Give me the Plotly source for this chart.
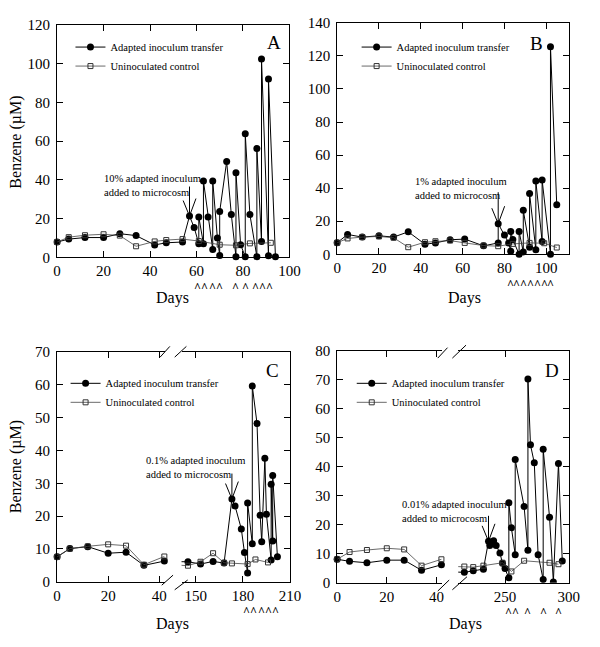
import plotly.graph_objects as go

# The page body keeps an 8 px margin, so the figure is sized to fill the 600x647 window.
PAGE_W, PAGE_H, BODY = 600, 647, 8
W, H = PAGE_W - 2 * BODY, PAGE_H - 2 * BODY
FONT = "Liberation Serif"

# ---------------- data ----------------
# Panel A (10% transfer)
a_days = [0, 5, 12, 20, 27, 34, 42, 47, 54, 57, 59, 61, 61, 63, 63, 65, 67, 67, 69, 70, 70,
          73, 75, 77, 77, 79, 81, 81, 83, 86, 86, 88, 88, 91, 91, 94]
a_adapted = [7.9, 9.4, 10.2, 10.2, 12.2, 11.2, 6.4, 7.5, 7.9, 21.3, 15.4, 7.0, 20.8, 7.0, 39.4,
             20.8, 4.0, 39.4, 10.0, 1.0, 23.6, 49.4, 22.1, 0.3, 43.6, 6.5, 0.3, 63.7, 22.1,
             0.3, 56.1, 8.2, 102.4, 0.8, 92.0, 0.3]
a_ctrl_days = [0, 5, 12, 20, 27, 34, 42, 47, 54, 61, 70, 77, 83, 92]
a_ctrl = [7.9, 10.4, 11.4, 11.9, 11.2, 5.7, 8.2, 8.9, 9.4, 8.4, 6.5, 6.2, 7.2, 7.5]
a_carets = [61, 63, 67, 70, 77, 81, 86, 88, 91]

# Panel B (1% transfer)
b_days = [0, 5, 12, 20, 27, 34, 42, 47, 54, 61, 70, 77, 77, 80, 82, 83, 83, 84, 87, 87, 89, 89,
          92, 92, 95, 95, 98, 98, 102, 102, 105]
b_adapted = [7.0, 12.0, 10.4, 11.2, 10.4, 13.6, 6.1, 6.9, 8.8, 9.2, 5.1, 6.9, 18.5, 11.6, 6.9,
             1.8, 13.8, 8.9, 0.0, 13.8, 1.4, 26.6, 4.3, 36.8, 2.7, 44.3, 7.7, 45.0, 0.0, 125.6, 29.9]
b_ctrl_days = [0, 5, 12, 20, 27, 34, 42, 47, 54, 61, 70, 77, 84, 92, 99, 105]
b_ctrl = [7.0, 9.6, 10.4, 10.8, 10.0, 4.3, 7.3, 7.9, 8.3, 6.9, 5.3, 4.9, 6.3, 6.9, 6.7, 4.1]
b_carets = [83, 87, 89, 92, 95, 98, 102]

# Panel C (0.1% transfer) - broken axis
c1_days = [0, 5, 12, 20, 27, 34, 42]
c1_adapted = [7.6, 10.1, 10.7, 8.7, 9.0, 5.0, 6.3]
c1_ctrl = [7.6, 10.1, 10.8, 11.4, 11.0, 5.2, 7.7]
c2_days = [145, 153, 161, 168, 173, 175, 179, 181, 183, 183, 186, 186, 189, 191, 192, 194, 195,
           198, 198, 199, 199, 202]
c2_adapted = [6.1, 5.4, 6.2, 5.7, 25.2, 23.1, 16.1, 8.9, 2.7, 24.0, 11.6, 59.6, 48.2, 20.3, 12.2,
              37.6, 20.6, 6.6, 29.7, 12.4, 32.4, 7.6]
c2_ctrl_days = [145, 153, 161, 168, 173, 183, 188, 196]
c2_ctrl = [4.9, 6.1, 8.7, 5.8, 5.6, 5.4, 6.8, 5.9]
c_carets = [183, 186, 194, 198, 199]

# Panel D (0.01% transfer) - broken axis
d1_days = [0, 5, 12, 20, 27, 34, 42]
d1_adapted = [8.1, 7.4, 6.9, 7.8, 7.8, 4.3, 6.2]
d1_ctrl = [8.1, 10.6, 11.3, 11.9, 11.5, 5.9, 8.1]
d2_days = [218, 225, 233, 237, 238, 241, 243, 246, 248, 250, 253, 253, 255, 258, 258, 265, 268,
           268, 270, 273, 276, 280, 280, 285, 288, 292, 295]
d2_adapted = [3.6, 4.1, 4.7, 14.3, 12.9, 14.5, 12.9, 10.3, 6.7, 4.9, 1.7, 27.6, 19.0, 9.7, 42.5,
              26.3, 11.2, 70.3, 47.6, 41.4, 9.7, 1.1, 46.1, 22.6, 0.3, 41.2, 7.5]
d2_ctrl_days = [218, 225, 233, 248, 255, 265, 285, 292]
d2_ctrl = [5.6, 5.4, 5.9, 6.9, 3.9, 7.6, 6.9, 6.4]
d_carets = [253, 258, 268, 280, 292]

series_names = ["Adapted inoculum transfer", "Uninoculated control"]
notes = ["10% adapted inoculum<br>added to microcosm",
         "1% adapted inoculum<br>added to microcosm",
         "0.1% adapted inoculum<br>added to microcosm",
         "0.01% adapted inoculum<br>added to microcosm"]
panel_letters = ["A", "B", "C", "D"]


# ---------------- helpers (arguments are page pixels) ----------------
def px(x):
    return (x - BODY) / W


def py(y):
    return 1 - (y - BODY) / H


def adapted_trace(x, y, xa, ya, legend, show, clip=False):
    return go.Scatter(x=x, y=y, xaxis=xa, yaxis=ya, mode="lines+markers",
                      name=series_names[0], legend=legend, showlegend=show,
                      line=dict(color="black", width=1),
                      marker=dict(symbol="circle", size=7, color="black"),
                      cliponaxis=clip)


def ctrl_trace(x, y, xa, ya, legend, show, clip=False):
    return go.Scatter(x=x, y=y, xaxis=xa, yaxis=ya, mode="lines+markers",
                      name=series_names[1], legend=legend, showlegend=show,
                      line=dict(color="#444444", width=0.8),
                      marker=dict(symbol="square-open", size=5, color="#333333",
                                  line=dict(width=1, color="#333333")),
                      cliponaxis=clip)


tickfont = dict(family=FONT, size=15, color="black")


def xax(d0, d1, rng, tickvals, anchor, mirror="ticks"):
    return dict(domain=[px(d0), px(d1)], range=rng, tickvals=tickvals, anchor=anchor,
                showline=True, linecolor="black", linewidth=1, mirror=mirror,
                ticks="inside", ticklen=6, tickcolor="black", tickwidth=1,
                showgrid=False, zeroline=False, tickfont=tickfont, fixedrange=True)


def yax(top, bottom, rng, dtick, anchor, mirror="ticks", side="left", labels=True):
    return dict(domain=[py(bottom), py(top)], range=rng, dtick=dtick, anchor=anchor,
                side=side, showline=True, linecolor="black", linewidth=1, mirror=mirror,
                ticks="inside", ticklen=6, tickcolor="black", tickwidth=1,
                showgrid=False, zeroline=False, tickfont=tickfont,
                showticklabels=labels, ticklabelstandoff=3, fixedrange=True)


fig = go.Figure()

# Panel A
fig.add_trace(adapted_trace(a_days, a_adapted, "x", "y", "legend", True))
fig.add_trace(ctrl_trace(a_ctrl_days, a_ctrl, "x", "y", "legend", True))
# Panel B
fig.add_trace(adapted_trace(b_days, b_adapted, "x2", "y2", "legend2", True))
fig.add_trace(ctrl_trace(b_ctrl_days, b_ctrl, "x2", "y2", "legend2", True))
# Panel C
fig.add_trace(adapted_trace(c1_days, c1_adapted, "x3", "y3", "legend3", True))
fig.add_trace(ctrl_trace(c1_days, c1_ctrl, "x3", "y3", "legend3", True))
fig.add_trace(adapted_trace(c1_days[-1:] + c2_days, c1_adapted[-1:] + c2_adapted, "x4", "y4",
                            "legend3", False, clip=True))
fig.add_trace(ctrl_trace(c1_days[-1:] + c2_ctrl_days, c1_ctrl[-1:] + c2_ctrl, "x4", "y4",
                         "legend3", False, clip=True))
# Panel D
fig.add_trace(adapted_trace(d1_days, d1_adapted, "x5", "y5", "legend4", True))
fig.add_trace(ctrl_trace(d1_days, d1_ctrl, "x5", "y5", "legend4", True))
fig.add_trace(adapted_trace(d1_days[-1:] + d2_days, d1_adapted[-1:] + d2_adapted, "x6", "y6",
                            "legend4", False, clip=True))
fig.add_trace(ctrl_trace(d1_days[-1:] + d2_ctrl_days, d1_ctrl[-1:] + d2_ctrl, "x6", "y6",
                         "legend4", False, clip=True))

# geometry (page pixels)
A_T, A_B = 17, 255.6
B_T, B_B = 15, 252.5
C_T, C_B = 352.7, 588.5
D_T, D_B = 351.7, 589.5

axes = dict(
    xaxis=((54.3, 292.7), [0, 100]),
    xaxis2=((341.7, 580), [0, 111]),
    xaxis4=((182, 293.3), [140.9, 210]),
    xaxis6=((466, 579.3), [213.2, 300]),
)

layout = dict(
    width=W, height=H, margin=dict(l=0, r=0, t=0, b=0),
    paper_bgcolor="white", plot_bgcolor="white",
    font=dict(family=FONT, color="black"),
    xaxis=xax(54.3, 292.7, [0, 100], [0, 20, 40, 60, 80, 100], "y"),
    yaxis=yax(A_T, A_B, [0, 120], 20, "x"),
    xaxis2=xax(341.7, 580, [0, 111], [0, 20, 40, 60, 80, 100], "y2"),
    yaxis2=yax(B_T, B_B, [0, 140], 20, "x2"),
    xaxis3=xax(54.3, 165, [0, 42.25], [0, 20, 40], "y3"),
    yaxis3=yax(C_T, C_B, [0, 70], 10, "x3", mirror=False),
    xaxis4=xax(182, 293.3, [140.9, 210], [150, 180, 210], "y4"),
    yaxis4=yax(C_T, C_B, [0, 70], 10, "x4", mirror=False, side="right", labels=False),
    xaxis5=xax(341.7, 449.5, [0, 42.3], [0, 20, 40], "y5"),
    yaxis5=yax(D_T, D_B, [0, 80], 10, "x5", mirror=False),
    xaxis6=xax(466, 579.3, [213.2, 300], [250, 300], "y6"),
    yaxis6=yax(D_T, D_B, [0, 80], 10, "x6", mirror=False, side="right", labels=False),
)

legfont = dict(family=FONT, size=10.5, color="black")
for key, (lx, ly) in zip(["legend", "legend2", "legend3", "legend4"],
                         [(68, 25), (361.7, 25), (63, 370), (356.7, 370)]):
    layout[key] = dict(x=px(lx), y=py(ly), xanchor="left", yanchor="top",
                       bgcolor="rgba(0,0,0,0)", borderwidth=0, font=legfont,
                       tracegroupgap=0)

fig.update_layout(**layout)

ann = []
# panel letters
for letter, (lx, ly) in zip(panel_letters, [(277, 35.5), (546.7, 35.8), (275, 372), (562.7, 372)]):
    ann.append(dict(text=letter, x=px(lx), y=py(ly), xref="paper", yref="paper",
                    xanchor="center", yanchor="middle", showarrow=False,
                    font=dict(family=FONT, size=19, color="black")))
# axis titles
for (lx, ly) in [(173, 297), (472, 297), (173, 632), (473, 632)]:
    ann.append(dict(text="Days", x=px(lx), y=py(ly), xref="paper", yref="paper",
                    xanchor="center", yanchor="middle", showarrow=False,
                    font=dict(family=FONT, size=16, color="black")))
for (lx, ly) in [(12, 137), (12, 470)]:
    ann.append(dict(text="Benzene (µM)", x=px(lx), y=py(ly), xref="paper", yref="paper",
                    xanchor="center", yanchor="middle", showarrow=False, textangle=-90,
                    font=dict(family=FONT, size=16, color="black")))
# inoculation notes
for note, (lx, ly) in zip(notes, [(100, 167), (420, 170), (143.3, 456), (406.7, 502)]):
    ann.append(dict(text=note, x=px(lx), y=py(ly), xref="paper", yref="paper",
                    xanchor="left", yanchor="top", showarrow=False, align="left",
                    font=dict(family=FONT, size=10.5, color="black")))

# arrows to the inoculation point (vertical line plus open V head)
targets = [("x", "y", a_days[9], a_adapted[9], -31),
           ("x2", "y2", b_days[12], b_adapted[12], -33),
           ("x4", "y4", c2_days[4], c2_adapted[4], -27),
           ("x6", "y6", d2_days[3], d2_adapted[3], -27)]
for xr, yr, xv, yv, ay in targets:
    for axo, ayo in [(0, ay), (-7, -17), (7, -19)]:
        ann.append(dict(text="", x=xv, y=yv, xref=xr, yref=yr, ax=axo, ay=ayo,
                        axref="pixel", ayref="pixel", showarrow=True, arrowhead=0,
                        arrowwidth=1, arrowcolor="black", standoff=0, startstandoff=0))


# carets marking benzene re-additions; carets closer than ~8 px share one label
def caret_groups(days, axkey):
    (d0, d1), (r0, r1) = axes[axkey]
    scale = (d1 - d0) / (r1 - r0)
    groups = [[days[0]]]
    for dday in days[1:]:
        if (dday - groups[-1][-1]) * scale < 8:
            groups[-1].append(dday)
        else:
            groups.append([dday])
    return groups


for xr, axkey, days, ytop in [("x", "xaxis", a_carets, A_B + 22),
                              ("x2", "xaxis2", b_carets, B_B + 22),
                              ("x4", "xaxis4", c_carets, C_B + 22),
                              ("x6", "xaxis6", d_carets, D_B + 22)]:
    for g in caret_groups(days, axkey):
        ann.append(dict(text="<b>" + "^" * len(g) + "</b>", x=(g[0] + g[-1]) / 2, y=py(ytop),
                        xref=xr, yref="paper", xanchor="center", yanchor="top",
                        showarrow=False, borderpad=0,
                        font=dict(family=FONT, size=12, color="black")))

fig.update_layout(annotations=ann)

# axis-break marks (decorative)
shapes = []
for (x0, y0, x1, y1) in [(160, 358, 170, 347), (175, 358, 187, 347),
                         (161.7, 592, 173.3, 581.7), (175, 596.7, 188.3, 586.7),
                         (445, 359, 455, 348.3), (460, 359, 474, 345.7),
                         (445, 598, 456.7, 586.7), (460, 596.7, 475, 583.3)]:
    shapes.append(dict(type="line", xref="paper", yref="paper",
                       x0=px(x0), y0=py(y0), x1=px(x1), y1=py(y1),
                       line=dict(color="black", width=1)))
fig.update_layout(shapes=shapes)

fig.write_html("out.html")
